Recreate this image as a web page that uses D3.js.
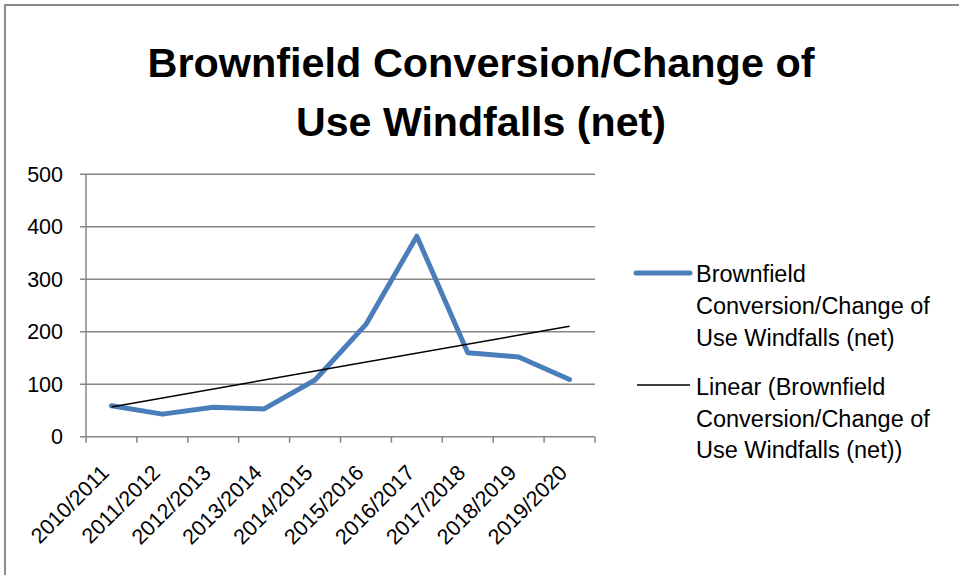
<!DOCTYPE html>
<html>
  <head>
    <title>Brownfield Windfalls</title>
    <script src="https://d3js.org/d3.v7.min.js"></script>
    <style>
      body { margin: 0; background: #fff; }
      text { font-family: "Liberation Sans", Arial, sans-serif; fill: #000; }
    </style>
  </head>
  <body>
    <svg id="plot" width="959" height="575"></svg>

    <script>
      // data
      var years = ["2010/2011", "2011/2012", "2012/2013", "2013/2014", "2014/2015",
                   "2015/2016", "2016/2017", "2017/2018", "2018/2019", "2019/2020"];
      var windfalls = [59, 43, 56, 53, 108, 214, 382, 160, 152, 109];
      var yTicks = [0, 100, 200, 300, 400, 500];
      var titleLines = ["Brownfield Conversion/Change of", "Use Windfalls (net)"];
      var legendMain = ["Brownfield", "Conversion/Change of", "Use Windfalls (net)"];
      var legendTrend = ["Linear (Brownfield", "Conversion/Change of", "Use Windfalls (net))"];

      const svg = d3.select("#plot");

      // outer chart border (runs off the right and bottom edges)
      svg.append("rect")
        .attr("x", 5).attr("y", 5)
        .attr("width", 1000).attr("height", 620)
        .attr("fill", "none").attr("stroke", "#8c8c8c").attr("stroke-width", 2);

      // title
      svg.selectAll(".title")
        .data(titleLines)
        .join("text")
        .attr("class", "title")
        .attr("x", 481)
        .attr("y", (d, i) => 77 + i * 59)
        .attr("text-anchor", "middle")
        .style("font-size", "40px")
        .style("font-weight", "bold")
        .attr("textLength", (d, i) => i == 0 ? 667 : 370)
        .attr("lengthAdjust", "spacingAndGlyphs")
        .text(d => d);

      var x = d3.scaleBand().domain(years).range([86, 595]);
      var y = d3.scaleLinear().domain([0, 500]).range([436.7, 174.3]);
      var grey = "#868686";

      // gridlines
      svg.append("g")
        .selectAll("line")
        .data(yTicks)
        .join("line")
        .attr("x1", 80).attr("x2", 595)
        .attr("y1", d => y(d)).attr("y2", d => y(d))
        .attr("stroke", grey).attr("stroke-width", 1.5);

      // y axis line
      svg.append("line")
        .attr("x1", 86).attr("x2", 86)
        .attr("y1", y(500)).attr("y2", y(0))
        .attr("stroke", grey).attr("stroke-width", 1.5);

      svg.append("g")
        .selectAll("text")
        .data(yTicks)
        .join("text")
        .attr("x", 63)
        .attr("y", d => y(d) + 7.5)
        .attr("text-anchor", "end")
        .style("font-size", "21.5px")
        .text(d => d);

      // x ticks at category boundaries
      var bounds = years.map(d => x(d)).concat([x.range()[1]]);
      svg.append("g")
        .selectAll("line")
        .data(bounds)
        .join("line")
        .attr("x1", d => d).attr("x2", d => d)
        .attr("y1", y(0)).attr("y2", y(0) + 6)
        .attr("stroke", grey).attr("stroke-width", 1.5);

      var cx = d => x(d) + x.bandwidth() / 2;

      svg.append("g")
        .selectAll("text")
        .data(years)
        .join("text")
        .attr("text-anchor", "end")
        .attr("transform", d => "translate(" + (cx(d) - 1) + "," + 474 + ") rotate(-45)")
        .style("font-size", "21.5px")
        .text(d => d);

      // main series
      var line = d3.line()
        .x((d, i) => cx(years[i]))
        .y(d => y(d));

      svg.append("path")
        .datum(windfalls)
        .attr("d", line)
        .attr("fill", "none")
        .attr("stroke", "#4a7ebb")
        .attr("stroke-width", 5)
        .attr("stroke-linejoin", "round")
        .attr("stroke-linecap", "round");

      // linear trendline (least squares over the series)
      var n = windfalls.length;
      var mx = d3.mean(windfalls, (d, i) => i);
      var my = d3.mean(windfalls);
      var sxy = d3.sum(windfalls, (d, i) => (i - mx) * (d - my));
      var sxx = d3.sum(windfalls, (d, i) => (i - mx) * (i - mx));
      var slope = sxy / sxx;
      var icpt = my - slope * mx;
      var trend = [icpt, icpt + slope * (n - 1)];

      svg.append("line")
        .attr("x1", cx(years[0])).attr("y1", y(trend[0]))
        .attr("x2", cx(years[n - 1])).attr("y2", y(trend[1]))
        .attr("stroke", "#000").attr("stroke-width", 1.5);

      // legend
      var lg = svg.append("g");
      lg.append("line")
        .attr("x1", 636).attr("x2", 690)
        .attr("y1", 273).attr("y2", 273)
        .attr("stroke", "#4a7ebb").attr("stroke-width", 5)
        .attr("stroke-linecap", "round");
      lg.selectAll(".l1")
        .data(legendMain)
        .join("text")
        .attr("class", "l1")
        .attr("x", 696)
        .attr("y", (d, i) => 282 + i * 32)
        .style("font-size", "23.5px")
        .text(d => d);

      lg.append("line")
        .attr("x1", 637).attr("x2", 690)
        .attr("y1", 385).attr("y2", 385)
        .attr("stroke", "#000").attr("stroke-width", 1.5);
      lg.selectAll(".l2")
        .data(legendTrend)
        .join("text")
        .attr("class", "l2")
        .attr("x", 696)
        .attr("y", (d, i) => 395 + i * 31.5)
        .style("font-size", "23.5px")
        .text(d => d);
    </script>
  </body>
</html>
